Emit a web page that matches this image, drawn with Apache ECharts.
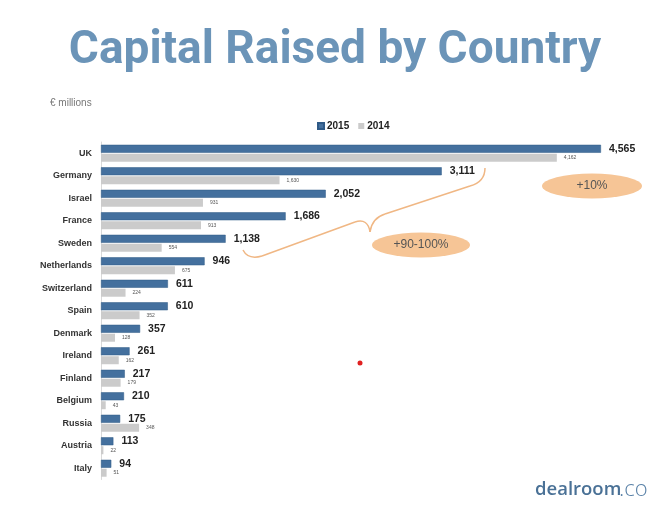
<!DOCTYPE html>
<html><head><meta charset="utf-8">
<script src="https://cdn.jsdelivr.net/npm/echarts@6/dist/echarts.min.js"></script>
<style>html,body{margin:0;padding:0;background:#fff}#c{width:670px;height:516px}</style>
</head><body><div id="c"></div>
<script>
const countries = ['UK','Germany','Israel','France','Sweden','Netherlands','Switzerland','Spain','Denmark','Ireland','Finland','Belgium','Russia','Austria','Italy'];
const values2015 = [4565,3111,2052,1686,1138,946,611,610,357,261,217,210,175,113,94];
const values2014 = [4162,1630,931,913,554,675,224,352,128,162,179,43,348,22,51];
const seriesNames = ['2015','2014'];

const chart = echarts.init(document.getElementById('c'));
const fmt = p => p.value.toLocaleString('en-US');
const braceStyle = {fill:'none',stroke:'#f0b784',lineWidth:1.5};
chart.setOption({
  animation:false,
  backgroundColor:'#fff',
  title:{text:'Capital Raised by Country',left:'center',top:23,
    textStyle:{fontFamily:'Roboto',fontWeight:'bold',fontSize:46,color:'#6b94b8'}},
  legend:{data:seriesNames,left:312,top:116,itemWidth:6,itemHeight:6,itemGap:9,icon:'rect',
    textStyle:{fontFamily:'Liberation Sans',fontWeight:'bold',fontSize:10,color:'#222',padding:[0,0,0,-2]}},
  grid:{left:101,top:142,width:547.6,height:337.5,containLabel:false},
  xAxis:{type:'value',min:0,max:5000,show:false},
  yAxis:{type:'category',data:countries,inverse:true,
    axisLine:{lineStyle:{color:'#d9d9d9'}},axisTick:{show:false},
    axisLabel:{fontFamily:'Liberation Sans',fontSize:9,fontWeight:'bold',color:'#333',margin:9}},
  series:[
    {name:'2015',type:'bar',data:values2015,barWidth:8,barGap:'12%',
      itemStyle:{color:'#44709e',borderColor:'#2f5a87',borderWidth:0.5},
      label:{show:true,position:'right',distance:8,formatter:fmt,fontFamily:'Liberation Sans',fontWeight:'bold',fontSize:10.5,color:'#222'}},
    {name:'2014',type:'bar',data:values2014,barWidth:8,
      itemStyle:{color:'#cbcbcb'},
      label:{show:true,position:'right',distance:7,formatter:fmt,fontFamily:'Liberation Sans',fontSize:5,color:'#555'}}
  ],
  graphic:{elements:[
    {type:'text',x:50,y:98,style:{text:'€ millions',fontFamily:'Liberation Sans',fontSize:10,fill:'#777'}},
    {type:'bezierCurve',shape:{x1:485,y1:168,cpx1:485,cpy1:182,x2:470,y2:186},style:braceStyle},
    {type:'line',shape:{x1:470,y1:186,x2:385,y2:214},style:braceStyle},
    {type:'bezierCurve',shape:{x1:385,y1:214,cpx1:372,cpy1:218,x2:370,y2:232},style:braceStyle},
    {type:'bezierCurve',shape:{x1:370,y1:232,cpx1:368,cpy1:218,x2:355,y2:222},style:braceStyle},
    {type:'line',shape:{x1:355,y1:222,x2:262,y2:256},style:braceStyle},
    {type:'bezierCurve',shape:{x1:262,y1:256,cpx1:248,cpy1:260,x2:243,y2:250},style:braceStyle},
    {type:'circle',x:592,y:186,scaleX:4,shape:{cx:0,cy:0,r:12.5},style:{fill:'#f6c596'}},
    {type:'text',x:592,y:186,style:{text:'+10%',align:'center',verticalAlign:'middle',fontFamily:'Liberation Sans',fontSize:12,fill:'#555'}},
    {type:'circle',x:421,y:245,scaleX:3.92,shape:{cx:0,cy:0,r:12.5},style:{fill:'#f6c596'}},
    {type:'text',x:421,y:245,style:{text:'+90-100%',align:'center',verticalAlign:'middle',fontFamily:'Liberation Sans',fontSize:12,fill:'#555'}},
    {type:'circle',shape:{cx:360,cy:363,r:2.5},style:{fill:'#e02020'}},
    {type:'text',x:535,y:490,style:{text:'dealroom',verticalAlign:'middle',fontFamily:'Open Sans',fontWeight:600,fontSize:18.5,fill:'#4a7196'}},
    {type:'text',x:619,y:490,style:{text:'.co',verticalAlign:'middle',fontFamily:'Open Sans',fontWeight:300,fontSize:22,fill:'#5a82a8'}}
  ]}
});
</script></body></html>
